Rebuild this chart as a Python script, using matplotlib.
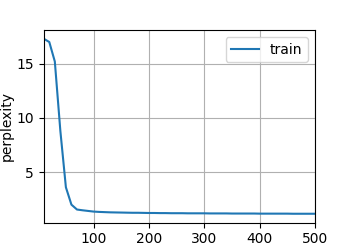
import numpy as np
import matplotlib
matplotlib.use("Agg")
import matplotlib.pyplot as plt

epochs = list(range(10, 510, 10))
perplexity = [
    17.3, 17.0, 15.2, 8.8, 3.6, 2.0, 1.55, 1.48, 1.42, 1.36,
    1.33, 1.31, 1.29, 1.28, 1.27, 1.26, 1.25, 1.25, 1.24, 1.23,
    1.23, 1.22, 1.22, 1.21, 1.21, 1.21, 1.20, 1.20, 1.20, 1.20,
    1.19, 1.19, 1.19, 1.19, 1.18, 1.18, 1.18, 1.18, 1.18, 1.17,
    1.17, 1.17, 1.17, 1.17, 1.17, 1.16, 1.16, 1.16, 1.16, 1.16,
]

fig, ax = plt.subplots(figsize=(3.5, 2.5), dpi=100)
ax.plot(epochs, perplexity, label='train')
ax.set_xlim(10, 500)
ax.set_ylabel('perplexity', labelpad=2)
ax.legend(loc='upper right')
ax.grid()

fig.savefig('out.png', dpi=100)
